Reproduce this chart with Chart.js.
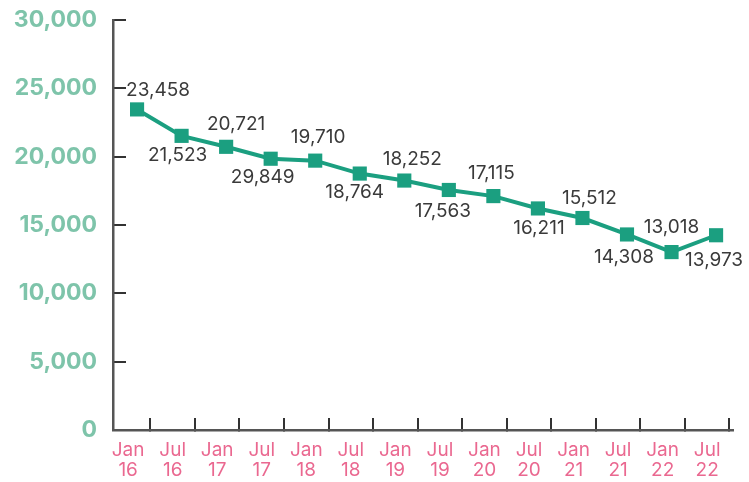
<!DOCTYPE html>
<html>
<head>
<meta charset="utf-8">
<script src="https://cdn.jsdelivr.net/npm/chart.js@4"></script>
<style>
  html, body { margin: 0; padding: 0; background: #fff; }
  #wrap { width: 749px; height: 482px; }
</style>
</head>
<body>
<div id="wrap"><canvas id="chart" width="749" height="482"></canvas></div>
<script>
// Half-yearly series, Jan 16 .. Jul 22
const periods = ['Jan 16', 'Jul 16', 'Jan 17', 'Jul 17', 'Jan 18', 'Jul 18', 'Jan 19',
                 'Jul 19', 'Jan 20', 'Jul 20', 'Jan 21', 'Jul 21', 'Jan 22', 'Jul 22'];
const values = [23458, 21523, 20721, 19849, 19710, 18764, 18252,
                17563, 17115, 16211, 15512, 14308, 13018, 14250];
// printed labels (as shown on the chart)
const pointLabels = ['23,458', '21,523', '20,721', '29,849', '19,710', '18,764', '18,252',
                     '17,563', '17,115', '16,211', '15,512', '14,308', '13,018', '13,973'];
const yTicks = [0, 5000, 10000, 15000, 20000, 25000, 30000];

const FONT = 'Inter, "DejaVu Sans", sans-serif';
const TEAL = '#1b9f80';

// Simple value label plugin (no datalabels plugin available)
const pointLabelPlugin = {
    id: 'pointLabels',
    afterDatasetsDraw(chart, args, opts) {
        const ctx = chart.ctx;
        const meta = chart.getDatasetMeta(0);
        ctx.save();
        ctx.font = opts.font;
        ctx.fillStyle = opts.color;
        ctx.textAlign = 'center';
        ctx.textBaseline = 'middle';
        meta.data.forEach((pt, i) => {
            ctx.fillText(opts.texts[i], pt.x + opts.shiftX[i], pt.y + opts.shiftY[i]);
        });
        ctx.restore();
    }
};

// fixed axis boxes, no extra padding from the tick labels
function fixBox(w, h) {
    return (s) => {
        if (w != null) s.width = w;
        if (h != null) s.height = h;
        s.paddingTop = s.paddingBottom = s.paddingLeft = s.paddingRight = 0;
    };
}

new Chart(document.getElementById('chart'), {
    type: 'line',
    data: {
        datasets: [{
            data: values.map((v, i) => ({ x: i, y: v })),
            borderColor: TEAL,
            backgroundColor: TEAL,
            borderWidth: 4,
            tension: 0,
            pointStyle: 'rect',
            pointRadius: 10,
            pointBorderWidth: 0,
            pointHoverRadius: 10
        }]
    },
    options: {
        responsive: false,
        animation: false,
        events: [],
        layout: { padding: { left: 0, right: 16, top: 20, bottom: 0 } },
        plugins: {
            legend: { display: false },
            tooltip: { enabled: false },
            pointLabels: {
                texts: pointLabels,
                font: '19px ' + FONT,
                color: '#3a3a3a',
                shiftX: [21, -4, 10, -8, 3, -5, 8, -6, -2, 1, 7, -3, 0, -2],
                shiftY: [-19, 19, -23, 19, -23, 19, -21, 21, -23, 20, -20, 23, -25, 25]
            }
        },
        scales: {
            x: {
                type: 'linear',
                min: -0.54,
                max: 13.38,
                afterBuildTicks: (s) => { s.ticks = periods.map((_, i) => ({ value: i - 0.2 })); },
                afterFit: fixBox(null, 52),
                grid: {
                    display: true,
                    offset: true,
                    drawOnChartArea: false,
                    drawTicks: true,
                    tickLength: -12,
                    color: '#333',
                    lineWidth: 2
                },
                border: { display: true, color: '#555', width: 2.5 },
                ticks: {
                    autoSkip: false,
                    maxRotation: 0,
                    padding: 22,
                    color: '#ea6890',
                    font: { family: FONT, size: 19, lineHeight: 1.05 },
                    callback: (v, i) => periods[i].split(' ')
                }
            },
            y: {
                min: 0,
                max: 30000,
                afterBuildTicks: (s) => { s.ticks = yTicks.map(v => ({ value: v })); },
                afterFit: fixBox(113, null),
                grid: {
                    display: true,
                    drawOnChartArea: false,
                    drawTicks: true,
                    tickLength: -13,
                    color: '#333',
                    lineWidth: 2
                },
                border: { display: true, color: '#555', width: 2.5 },
                ticks: {
                    padding: 29,
                    color: '#7ec4aa',
                    font: { family: FONT, size: 23, weight: 'bold' },
                    callback: (v) => v.toLocaleString('en-US')
                }
            }
        }
    },
    plugins: [pointLabelPlugin]
});
</script>
</body>
</html>
